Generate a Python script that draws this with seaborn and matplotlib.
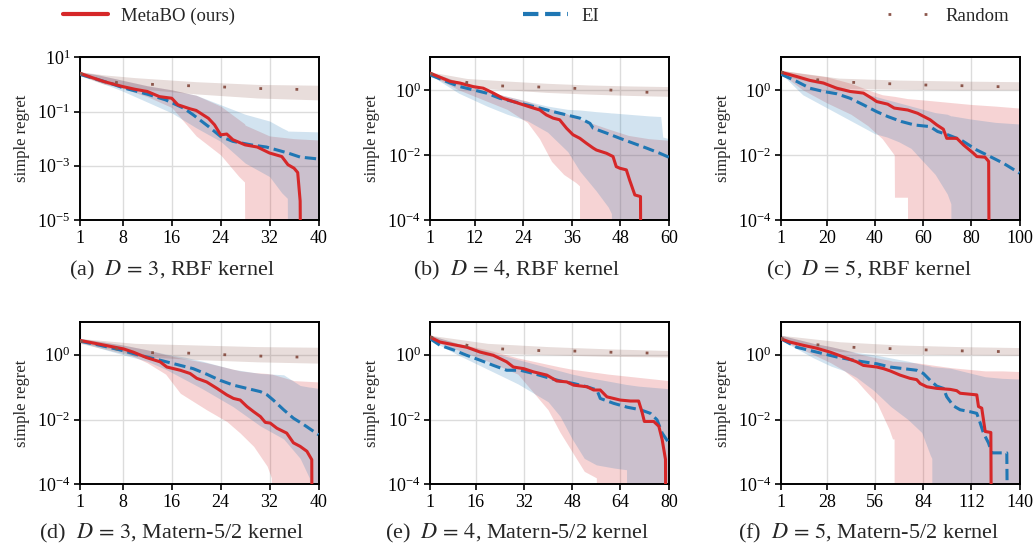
import numpy as np
import pandas as pd
import matplotlib
matplotlib.use("Agg")
import matplotlib.pyplot as plt
from matplotlib.lines import Line2D
from matplotlib.ticker import NullLocator, LogFormatterSciNotation
import seaborn as sns

# ---------------- data (log10 of simple regret) ----------------
# (a) D=3 RBF
a_meta_x = [1, 3, 5, 8, 10, 12, 14, 16, 17, 19, 20, 22, 23, 24, 25, 26, 28, 30, 32, 34, 35, 36, 36.6, 37.0, 37.15]
a_meta_y = [0.41, 0.25, 0.10, -0.08, -0.18, -0.26, -0.45, -0.51, -0.75, -0.90, -0.96, -1.25, -1.49, -1.86, -1.83,
            -2.04, -2.23, -2.31, -2.53, -2.66, -2.96, -3.09, -3.25, -4.3, -9]
a_meta_bx = [1, 4, 8, 12, 16, 20, 24, 27, 27.9, 28, 32, 36, 40]
a_meta_lo = [0.36, 0.1, -0.15, -0.45, -0.85, -1.9, -2.6, -3.4, -3.6, -9, -9, -9, -9]
a_meta_hi = [0.46, 0.35, 0.15, -0.05, -0.2, -0.4, -0.8, -1.3, -1.45, -1.5, -1.9, -2.0, -2.05]
a_ei_x = [1, 6, 8, 12, 15, 18, 19.5, 22, 24, 26, 29, 31.5, 35, 37, 40]
a_ei_y = [0.37, 0.04, -0.12, -0.36, -0.57, -0.88, -1.12, -1.55, -1.92, -2.10, -2.23, -2.31, -2.53, -2.68, -2.75]
a_ei_bx = [1, 4, 8, 12, 16, 20, 24, 28, 32, 34, 34.9, 35, 40]
a_ei_lo = [0.34, 0.1, -0.25, -0.65, -1.05, -1.6, -2.1, -2.9, -3.4, -4.0, -4.2, -9, -9]
a_ei_hi = [0.46, 0.35, 0.15, -0.05, -0.2, -0.4, -0.75, -1.1, -1.35, -1.6, -1.7, -1.72, -1.75]
a_rnd_x = [1, 7, 13, 19, 25, 30, 36, 40]
a_rnd_y = [0.40, 0.07, 0.0, -0.05, -0.10, -0.15, -0.18, -0.2]
a_rnd_bx = [1, 5, 10, 20, 30, 40]
a_rnd_lo = [0.32, 0.0, -0.15, -0.35, -0.5, -0.57]
a_rnd_hi = [0.47, 0.35, 0.25, 0.1, 0.0, -0.03]

# (b) D=4 RBF
b_meta_x = [1, 5.9, 8.3, 11.6, 14.1, 16.6, 19.0, 21.5, 24.0, 26.5, 28.1, 29.7, 31.4, 33.0, 34.7, 36.3, 38.0, 39.6,
            41.3, 42.1, 44.6, 46.2, 47.0, 47.9, 49.5, 50.3, 51.6, 53.0, 53.2]
b_meta_y = [0.51, 0.26, 0.21, 0.10, 0.05, -0.10, -0.26, -0.36, -0.46, -0.56, -0.62, -0.77, -0.87, -0.92, -1.18,
            -1.38, -1.49, -1.64, -1.79, -1.85, -1.95, -2.05, -2.36, -2.41, -2.46, -2.77, -3.23, -3.28, -9]
b_meta_bx = [1, 8, 15, 20, 25, 28, 31, 34, 37, 37.9, 38, 45, 50, 55, 60]
b_meta_lo = [0.45, 0.0, -0.35, -0.6, -1.0, -1.5, -2.2, -2.6, -2.85, -2.95, -9, -9, -9, -9, -9]
b_meta_hi = [0.55, 0.25, -0.05, -0.2, -0.35, -0.5, -0.6, -0.7, -0.85, -0.9, -0.9, -1.2, -1.4, -1.5, -1.55]
b_ei_x = [1, 5.9, 8.3, 11.6, 14.9, 18.2, 21.5, 24.8, 28.1, 31.4, 34.7, 38.0, 40.5, 41.3, 44.6, 47.9, 51.2, 54.5, 57.8, 60]
b_ei_y = [0.46, 0.21, 0.10, 0.0, -0.10, -0.26, -0.36, -0.46, -0.56, -0.67, -0.77, -0.87, -1.03, -1.18, -1.33,
          -1.49, -1.64, -1.79, -1.95, -2.07]
b_ei_bx = [1, 8, 15, 20, 25, 30, 35, 38, 42, 45, 45.8, 46, 50, 55, 58, 58.5, 60]
b_ei_lo = [0.45, -0.1, -0.5, -0.75, -0.95, -1.3, -1.9, -2.5, -3.1, -3.6, -3.8, -9, -9, -9, -9, -9, -9]
b_ei_hi = [0.55, 0.25, -0.05, -0.2, -0.35, -0.5, -0.6, -0.62, -0.67, -0.7, -0.71, -0.71, -0.75, -0.8, -0.82, -1.45, -1.5]
b_rnd_x = [1, 9.8, 18.5, 27.3, 36, 44.7, 53.5, 60]
b_rnd_y = [0.5, 0.23, 0.12, 0.09, 0.05, 0.0, -0.07, -0.09]
b_rnd_bx = [1, 10, 20, 30, 40, 50, 60]
b_rnd_lo = [0.4, 0.08, 0.0, -0.08, -0.13, -0.17, -0.2]
b_rnd_hi = [0.55, 0.35, 0.27, 0.2, 0.15, 0.12, 0.1]

# (c) D=5 RBF
c_meta_x = [1, 7.5, 13.0, 18.6, 24.1, 29.7, 35.2, 38.7, 40.7, 45.3, 48.0, 53.6, 57.7, 62.9, 65.7, 68.4, 69.8,
            74.0, 76.7, 80.9, 82.3, 85.7, 87.2, 87.6]
c_meta_y = [0.54, 0.41, 0.29, 0.21, 0.05, -0.05, -0.10, -0.26, -0.36, -0.44, -0.56, -0.62, -0.72, -0.92, -1.08,
            -1.21, -1.49, -1.49, -1.69, -1.95, -2.05, -2.07, -2.2, -9]
c_meta_bx = [1, 10, 20, 30, 37, 43, 48, 48.1, 53.5, 53.6, 60, 70, 80, 90, 100]
c_meta_lo = [0.5, 0.0, -0.4, -0.75, -1.1, -1.5, -2.0, -3.3, -3.3, -9, -9, -9, -9, -9, -9]
c_meta_hi = [0.6, 0.5, 0.4, 0.2, 0.0, -0.15, -0.2, -0.2, -0.27, -0.27, -0.31, -0.38, -0.45, -0.5, -0.56]
c_ei_x = [1, 7.5, 13.0, 18.6, 24.1, 29.7, 35.2, 40.7, 45.3, 50.8, 56.4, 62.9, 66.0, 70.2, 75.7, 82.3, 87.8, 93.4, 100]
c_ei_y = [0.48, 0.26, 0.05, -0.05, -0.12, -0.26, -0.46, -0.67, -0.82, -0.97, -1.08, -1.13, -1.28, -1.38, -1.54,
          -1.85, -2.05, -2.26, -2.56]
c_ei_bx = [1, 10, 20, 30, 40, 45, 50, 55, 60, 65, 70, 71.5, 71.9, 80, 90, 100]
c_ei_lo = [0.5, -0.15, -0.55, -0.95, -1.35, -1.45, -1.6, -1.8, -2.2, -2.6, -3.2, -3.5, -9, -9, -9, -9]
c_ei_hi = [0.55, 0.35, 0.2, 0.0, -0.2, -0.3, -0.4, -0.5, -0.6, -0.7, -0.75, -0.8, -0.8, -0.9, -1.0, -1.05]
c_rnd_x = [1, 16, 30.5, 45, 60, 74.5, 89, 100]
c_rnd_y = [0.55, 0.31, 0.23, 0.19, 0.15, 0.13, 0.10, 0.09]
c_rnd_bx = [1, 25, 50, 75, 100]
c_rnd_lo = [0.45, 0.05, 0.02, 0.0, 0.0]
c_rnd_hi = [0.6, 0.36, 0.3, 0.27, 0.25]

# (d) D=3 Matern-5/2
d_meta_x = [1, 3.2, 5.9, 8.1, 9.7, 11.9, 14.1, 15.2, 17.4, 19.0, 20.1, 21.7, 23.4, 25.0, 26.1, 27.2, 28.3, 29.4,
            30.5, 31.3, 32.1, 33.2, 34.8, 35.9, 37.0, 38.1, 38.9, 39.0]
d_meta_y = [0.44, 0.36, 0.26, 0.18, 0.08, -0.09, -0.22, -0.38, -0.48, -0.58, -0.73, -0.84, -1.04, -1.24, -1.35,
            -1.40, -1.60, -1.76, -1.91, -2.09, -2.11, -2.27, -2.42, -2.72, -2.83, -2.98, -3.24, -9]
d_meta_bx = [1, 8, 12, 15, 17.4, 21.7, 25, 27.2, 29.4, 31.6, 32.3, 32.4, 36, 40]
d_meta_lo = [0.38, 0.1, -0.25, -0.6, -1.19, -1.70, -2.06, -2.42, -2.83, -3.44, -3.8, -9, -9, -9]
d_meta_hi = [0.5, 0.3, 0.15, 0.0, -0.1, -0.25, -0.4, -0.5, -0.55, -0.58, -0.6, -0.6, -0.8, -0.84]
d_ei_x = [1, 4.3, 7.5, 10.8, 14.1, 17.4, 19.5, 21.7, 23.9, 26.1, 28.3, 30.5, 31.6, 32.6, 34.3, 35.9, 37.6, 40]
d_ei_y = [0.42, 0.29, 0.15, -0.02, -0.17, -0.33, -0.43, -0.60, -0.79, -0.94, -1.04, -1.14, -1.24, -1.40, -1.70,
          -1.96, -2.16, -2.47]
d_ei_bx = [1, 8, 12, 15, 18, 21, 26, 30.5, 34.3, 37, 38.5, 38.6, 40]
d_ei_lo = [0.38, 0.0, -0.2, -0.45, -0.75, -1.05, -1.6, -2.2, -2.6, -3.2, -3.8, -9, -9]
d_ei_hi = [0.5, 0.3, 0.15, 0.02, -0.07, -0.2, -0.45, -0.58, -0.62, -0.95, -1.0, -1.0, -1.04]
d_rnd_x = [1, 7, 13, 18.5, 24.5, 30, 36, 40]
d_rnd_y = [0.42, 0.18, 0.06, 0.05, 0.0, -0.04, -0.07, -0.08]
d_rnd_bx = [1, 10, 20, 30, 40]
d_rnd_lo = [0.35, -0.05, -0.15, -0.22, -0.26]
d_rnd_hi = [0.5, 0.35, 0.3, 0.25, 0.23]

# (e) D=4 Matern-5/2
e_meta_x = [1, 4.2, 8.6, 13.1, 17.5, 21.9, 24.1, 26.3, 28.5, 31.9, 35.2, 39.6, 42.9, 46.2, 48.5, 52.9, 55.1, 57.3,
            59.5, 61.7, 63.9, 67.3, 70.0, 71.1, 71.9, 75.0, 76.7, 77.8, 78.9, 79.2]
e_meta_y = [0.54, 0.39, 0.31, 0.23, 0.08, -0.02, -0.12, -0.22, -0.38, -0.43, -0.53, -0.63, -0.81, -0.84, -0.94,
            -0.99, -1.09, -1.09, -1.30, -1.35, -1.40, -1.43, -1.43, -1.76, -2.06, -2.06, -2.21, -2.62, -3.23, -9]
e_meta_bx = [1, 10, 20, 30, 40, 44, 48, 52, 56, 56.1, 60, 70, 80]
e_meta_lo = [0.45, 0.15, -0.2, -0.6, -1.7, -2.4, -3.0, -3.6, -3.8, -9, -9, -9, -9]
e_meta_hi = [0.6, 0.35, 0.15, -0.1, -0.3, -0.38, -0.45, -0.5, -0.55, -0.55, -0.6, -0.7, -0.8]
e_ei_x = [1, 4.2, 8.6, 13.1, 17.5, 21.9, 26.3, 30.8, 35.2, 39.6, 44.0, 48.5, 52.9, 56.2, 57.3, 61.7, 66.2, 70.6,
          73.9, 76.1, 77.8, 80]
e_ei_y = [0.49, 0.29, 0.15, -0.02, -0.17, -0.33, -0.48, -0.48, -0.58, -0.70, -0.81, -0.89, -0.99, -1.09, -1.35,
          -1.50, -1.62, -1.70, -1.81, -2.01, -2.42, -2.72]
e_ei_bx = [1, 10, 20, 30, 40, 44, 48, 52, 56, 62, 66, 66.1, 70, 80]
e_ei_lo = [0.45, 0.0, -0.45, -0.9, -1.45, -1.9, -2.6, -3.2, -3.4, -3.5, -3.55, -9, -9, -9]
e_ei_hi = [0.6, 0.35, 0.1, -0.15, -0.4, -0.5, -0.6, -0.68, -0.75, -0.85, -0.92, -0.92, -0.97, -1.05]
e_rnd_x = [1, 16, 27.7, 39.4, 51, 62.7, 74.4, 80]
e_rnd_y = [0.55, 0.23, 0.16, 0.12, 0.11, 0.07, 0.05, 0.05]
e_rnd_bx = [1, 20, 40, 60, 80]
e_rnd_lo = [0.45, 0.05, 0.0, -0.05, -0.07]
e_rnd_hi = [0.6, 0.35, 0.25, 0.18, 0.13]

# (f) D=5 Matern-5/2
f_meta_x = [1, 6.2, 14.0, 21.8, 29.6, 37.4, 45.1, 49.0, 56.8, 60.7, 64.6, 70.4, 76.2, 80.1, 82.1, 86.0, 91.8, 99.6,
            103.4, 105.4, 115.1, 116.1, 118.0, 120.0, 123.3, 123.9]
f_meta_y = [0.49, 0.39, 0.29, 0.20, 0.08, -0.07, -0.22, -0.33, -0.38, -0.43, -0.50, -0.63, -0.73, -0.77, -0.89,
            -0.99, -1.04, -1.07, -1.11, -1.19, -1.24, -1.60, -1.65, -2.37, -2.40, -9]
f_meta_bx = [1, 20, 30, 38, 45, 50, 57, 64, 66, 66.9, 67, 80, 100, 110, 120, 130, 140]
f_meta_lo = [0.45, 0.0, -0.25, -0.5, -0.8, -1.1, -1.5, -2.3, -2.6, -2.6, -9, -9, -9, -9, -9, -9, -9]
f_meta_hi = [0.6, 0.35, 0.25, 0.15, 0.05, -0.02, -0.1, -0.17, -0.2, -0.2, -0.2, -0.25, -0.4, -0.45, -0.5, -0.5, -0.52]
f_ei_x = [1, 10.1, 17.9, 25.7, 33.5, 41.2, 49.0, 56.8, 64.6, 72.3, 80.1, 84.0, 87.9, 91.8, 95.7, 97.6, 101.5, 105.4,
          111.2, 115.1, 117.1, 119.0, 121.9, 123.9, 132.6, 133.6]
f_ei_y = [0.49, 0.23, 0.13, 0.03, -0.07, -0.15, -0.22, -0.28, -0.38, -0.43, -0.48, -0.58, -0.79, -0.97, -1.04,
          -1.30, -1.58, -1.70, -1.76, -1.81, -2.11, -2.42, -2.72, -3.03, -3.03, -9]
f_ei_bx = [1, 20, 30, 38, 45, 55, 65, 75, 83, 88, 88.9, 89, 100, 110, 120, 130, 140]
f_ei_lo = [0.45, -0.1, -0.35, -0.5, -0.7, -1.1, -1.6, -2.0, -2.4, -3.1, -3.2, -9, -9, -9, -9, -9, -9]
f_ei_hi = [0.6, 0.35, 0.25, 0.15, 0.07, 0.0, -0.1, -0.2, -0.3, -0.35, -0.37, -0.37, -0.42, -0.55, -0.68, -0.73, -0.75]
f_rnd_x = [1, 21, 42, 63, 84, 104, 125, 140]
f_rnd_y = [0.5, 0.31, 0.23, 0.19, 0.15, 0.12, 0.10, 0.09]
f_rnd_bx = [1, 35, 70, 105, 140]
f_rnd_lo = [0.45, 0.1, 0.02, 0.0, -0.02]
f_rnd_hi = [0.6, 0.4, 0.3, 0.25, 0.22]

x_max = [40, 60, 100, 40, 80, 140]
x_ticks = [[1, 8, 16, 24, 32, 40], [1, 12, 24, 36, 48, 60], [1, 20, 40, 60, 80, 100],
           [1, 8, 16, 24, 32, 40], [1, 16, 32, 48, 64, 80], [1, 28, 56, 84, 112, 140]]
y_min_exp = [-5, -4, -4, -4, -4, -4]
y_tick_exp = [[-5, -3, -1, 1], [-4, -2, 0], [-4, -2, 0], [-4, -2, 0], [-4, -2, 0], [-4, -2, 0]]
captions = [r"(a)  $D\,=\,3$, RBF kernel", r"(b)  $D\,=\,4$, RBF kernel", r"(c)  $D\,=\,5$, RBF kernel",
            r"(d)  $D\,=\,3$, Matern-5/2 kernel", r"(e)  $D\,=\,4$, Matern-5/2 kernel",
            r"(f)  $D\,=\,5$, Matern-5/2 kernel"]
methods = ["MetaBO (ours)", "EI", "Random"]
colors = ["#d62728", "#1f77b4", "#8c564b"]

panels = [
    [(a_meta_x, a_meta_y, a_meta_bx, a_meta_lo, a_meta_hi), (a_ei_x, a_ei_y, a_ei_bx, a_ei_lo, a_ei_hi),
     (a_rnd_x, a_rnd_y, a_rnd_bx, a_rnd_lo, a_rnd_hi)],
    [(b_meta_x, b_meta_y, b_meta_bx, b_meta_lo, b_meta_hi), (b_ei_x, b_ei_y, b_ei_bx, b_ei_lo, b_ei_hi),
     (b_rnd_x, b_rnd_y, b_rnd_bx, b_rnd_lo, b_rnd_hi)],
    [(c_meta_x, c_meta_y, c_meta_bx, c_meta_lo, c_meta_hi), (c_ei_x, c_ei_y, c_ei_bx, c_ei_lo, c_ei_hi),
     (c_rnd_x, c_rnd_y, c_rnd_bx, c_rnd_lo, c_rnd_hi)],
    [(d_meta_x, d_meta_y, d_meta_bx, d_meta_lo, d_meta_hi), (d_ei_x, d_ei_y, d_ei_bx, d_ei_lo, d_ei_hi),
     (d_rnd_x, d_rnd_y, d_rnd_bx, d_rnd_lo, d_rnd_hi)],
    [(e_meta_x, e_meta_y, e_meta_bx, e_meta_lo, e_meta_hi), (e_ei_x, e_ei_y, e_ei_bx, e_ei_lo, e_ei_hi),
     (e_rnd_x, e_rnd_y, e_rnd_bx, e_rnd_lo, e_rnd_hi)],
    [(f_meta_x, f_meta_y, f_meta_bx, f_meta_lo, f_meta_hi), (f_ei_x, f_ei_y, f_ei_bx, f_ei_lo, f_ei_hi),
     (f_rnd_x, f_rnd_y, f_rnd_bx, f_rnd_lo, f_rnd_hi)],
]

# ---------------- style ----------------
sns.set_theme(style="whitegrid", rc={
    "axes.edgecolor": "black", "axes.linewidth": 1.4, "grid.color": "#dcdcdc", "grid.linewidth": 1.0,
    "xtick.bottom": True, "ytick.left": True, "xtick.color": "black", "ytick.color": "black",
    "xtick.major.size": 4, "ytick.major.size": 4, "xtick.major.width": 1.2, "ytick.major.width": 1.2,
})
plt.rcParams["font.family"] = ["Liberation Serif", "DejaVu Serif"]
plt.rcParams["mathtext.fontset"] = "stix"
plt.rcParams["axes.unicode_minus"] = True

fig = plt.figure(figsize=(10.33, 5.46), dpi=100)
W, H = 1033.0, 546.0
lefts = [80, 430.3, 781]
rows = [(57.3, 220.0), (322.3, 484.3)]
cap_x = [172, 517, 869]
cap_y = [270, 533]
line_styles = ["-", "--", (0, (1, 12))]
line_widths = [2.2, 2.2, 2.0]

for k, series in enumerate(panels):
    r, c = divmod(k, 3)
    top, bot = rows[r]
    ax = fig.add_axes([lefts[c] / W, 1 - bot / H, 238.5 / W, (bot - top) / H])
    ax.set_yscale("log")
    for (sx, sy, bx, lo, hi), col in zip(series, colors):
        ax.fill_between(bx, 10.0 ** np.array(lo), 10.0 ** np.array(hi), color=col, alpha=0.2, lw=0, zorder=1)
    for idx in [1, 0, 2]:
        sx, sy, bx, lo, hi = series[idx]
        df = pd.DataFrame({"iteration": sx, "regret": 10.0 ** np.array(sy)})
        sns.lineplot(data=df, x="iteration", y="regret", ax=ax, color=colors[idx], lw=line_widths[idx],
                     linestyle=line_styles[idx], estimator=None, sort=False, errorbar=None, legend=False,
                     zorder=3)
    ax.set_xlim(1, x_max[k])
    ax.set_ylim(10.0 ** y_min_exp[k], 10.0 ** 1)
    ax.set_xticks(x_ticks[k])
    ax.set_yticks([10.0 ** e for e in y_tick_exp[k]])
    ax.yaxis.set_major_formatter(LogFormatterSciNotation())
    ax.yaxis.set_minor_locator(NullLocator())
    ax.tick_params(labelsize=13, pad=3)
    ax.set_xlabel("")
    ax.set_ylabel("simple regret", fontsize=12, labelpad=5)
    for s in ax.spines.values():
        s.set_color("black")
    fig.text(cap_x[c] / W, 1 - cap_y[r] / H, captions[k], ha="center", va="center", fontsize=16)

handles = [Line2D([], [], color=colors[0], lw=3, linestyle="-"),
           Line2D([], [], color=colors[1], lw=3, linestyle="--"),
           Line2D([], [], color=colors[2], lw=2, linestyle=(0, (1, 12)))]
fig.legend(handles, methods, loc="upper left", bbox_to_anchor=(55 / W, 1.0, 962 / W, 0), mode="expand",
           ncol=3, frameon=False, fontsize=13.5, handlelength=2.4, handletextpad=0.7, borderaxespad=0.0)

fig.savefig("out.png", dpi=100)
